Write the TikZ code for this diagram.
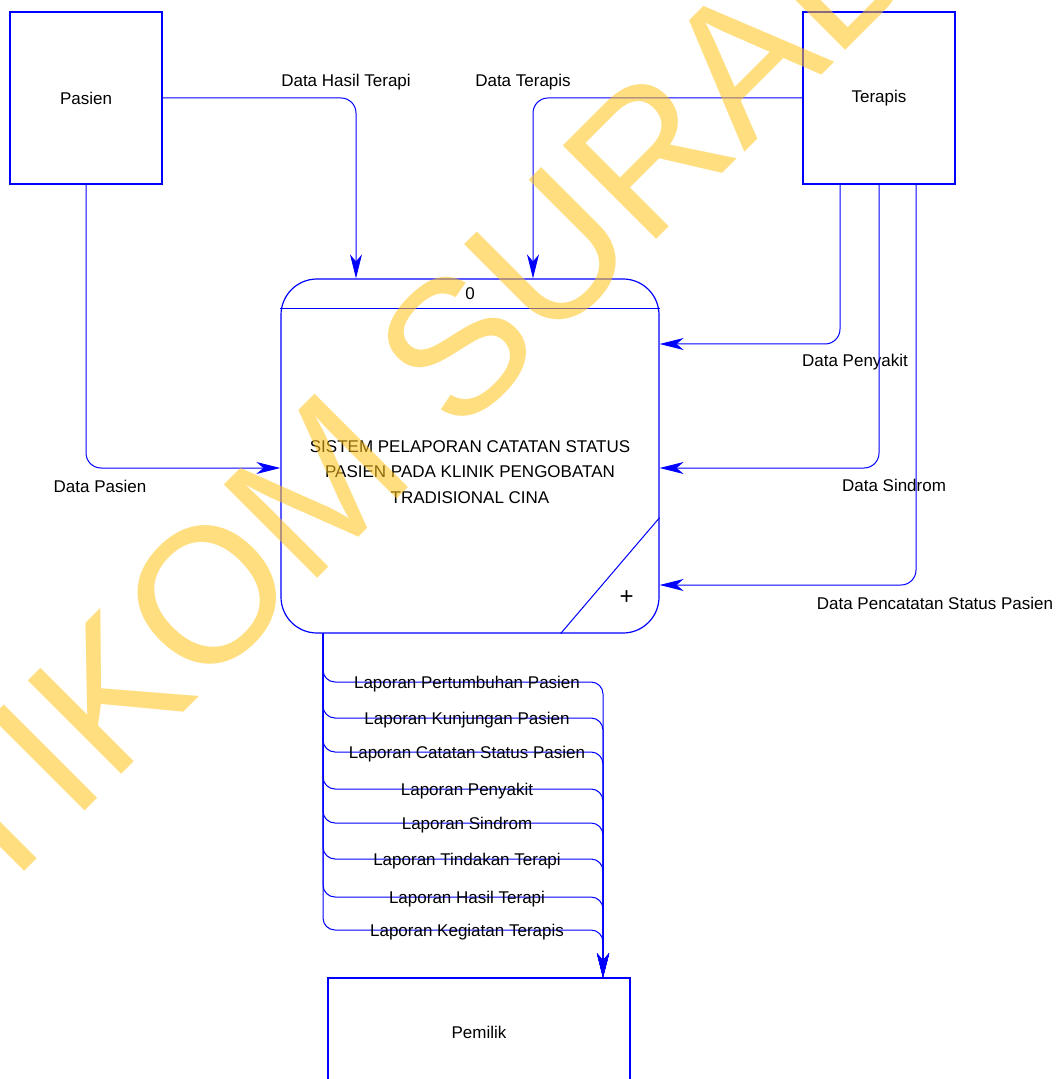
\documentclass[tikz,border=0pt]{standalone}
\usepackage{fontspec}
\setmainfont{Liberation Sans}
\usepackage{tikz}
\usetikzlibrary{arrows.meta, positioning, calc}
\definecolor{dfdblue}{RGB}{0,0,255}
\definecolor{wmyellow}{RGB}{255,195,24}
\tikzstyle{flow} = [draw=dfdblue, line width=0.5pt, -{Stealth[length=12pt, width=6pt, inset=3.5pt]}]
\tikzstyle{entity} = [draw=dfdblue, line width=0.6pt, minimum width=76pt, minimum height=86pt, font=\fontsize{8.5}{12.75}\selectfont]
\tikzstyle{process} = [draw=dfdblue, line width=0.6pt, rounded corners=18pt, minimum width=189pt, minimum height=177pt]
\tikzstyle{lbl} = [font=\fontsize{8.5}{12.75}\selectfont, inner sep=0pt]

\begin{document}
\begin{tikzpicture}[x=0.5pt, y=-0.5pt]
    \useasboundingbox (0,0) rectangle (1060,1079);
    \clip (0,0) rectangle (1060,1079);

    \node[entity] (pasien) at (86,98) {Pasien};
    \node[entity] (terapis) at (879,98) {Terapis};
    \node[entity, minimum width=151pt, minimum height=54pt] (pemilik) at (479,1032) {Pemilik};
    \node[process] (proc) at (470,456) {};
    \draw[dfdblue, line width=0.5pt] ([yshift=-15pt]proc.north west) -- ([yshift=-15pt]proc.north east);
    \node[lbl] (procno) at ([yshift=-7.5pt]proc.north) {0};
    \node[lbl, align=center] (proctitle) at ([yshift=-8pt]proc.center) {SISTEM PELAPORAN CATATAN STATUS\\PASIEN PADA KLINIK PENGOBATAN\\TRADISIONAL CINA};
    \draw[dfdblue, line width=0.5pt] ([xshift=-49.5pt]proc.south east) -- ([yshift=58pt]proc.south east);
    \node[font=\fontsize{12}{12}\selectfont, inner sep=0pt] (procplus) at ([xshift=-16.5pt, yshift=18pt]proc.south east) {+};

    \draw[flow, rounded corners=7.5pt] (pasien.east) -| node[lbl, pos=0.5, xshift=-5pt, yshift=8pt] (hasil) {Data Hasil Terapi} ([xshift=-57pt]proc.north);
    \draw[flow, rounded corners=7.5pt] (terapis.west) -| node[lbl, pos=0.5, xshift=-5pt, yshift=8pt] (dterapis) {Data Terapis} ([xshift=31.5pt]proc.north);
    \draw[flow, rounded corners=7.5pt] (pasien.south) |- node[lbl, pos=0.5, xshift=7pt, yshift=-9pt] (dpasien) {Data Pasien} ([yshift=-6pt]proc.west);
    \draw[flow, rounded corners=7.5pt] ([xshift=-19.5pt]terapis.south) |- node[lbl, pos=0.5, xshift=7.5pt, yshift=-9pt] (penyakit) {Data Penyakit} ([yshift=56pt]proc.east);
    \draw[flow, rounded corners=7.5pt] (terapis.south) |- node[lbl, pos=0.5, xshift=7.5pt, yshift=-8.5pt] (sindrom) {Data Sindrom} ([yshift=-6pt]proc.east);
    \draw[flow, rounded corners=7.5pt] ([xshift=18.5pt]terapis.south) |- node[lbl, pos=0.5, xshift=9.5pt, yshift=-9pt] (catat) {Data Pencatatan Status Pasien} ([yshift=-64.5pt]proc.east);

    \coordinate (repout) at ([xshift=-73.5pt]proc.south);
    \coordinate (repin) at ([xshift=62pt]pemilik.north);
    \foreach \y/\txt [count=\i] in {682/Laporan Pertumbuhan Pasien, 718/Laporan Kunjungan Pasien, 752/Laporan Catatan Status Pasien, 789/Laporan Penyakit, 823/Laporan Sindrom, 859/Laporan Tindakan Terapi, 897/Laporan Hasil Terapi, 930/Laporan Kegiatan Terapis}
      \draw[flow, rounded corners=6pt] (repout) |- node[lbl, pos=0.75, xshift=2pt, yshift=-1pt] (lap\i) {\txt} (repin |- 0,\y) -- (repin);

    \node[rotate=45, anchor=base, text=wmyellow, opacity=0.55, font=\fontsize{96}{96}\selectfont, inner sep=0pt] (watermark) at (538,358) {STIKOM SURABAYA};
  \end{tikzpicture}
\end{document}
